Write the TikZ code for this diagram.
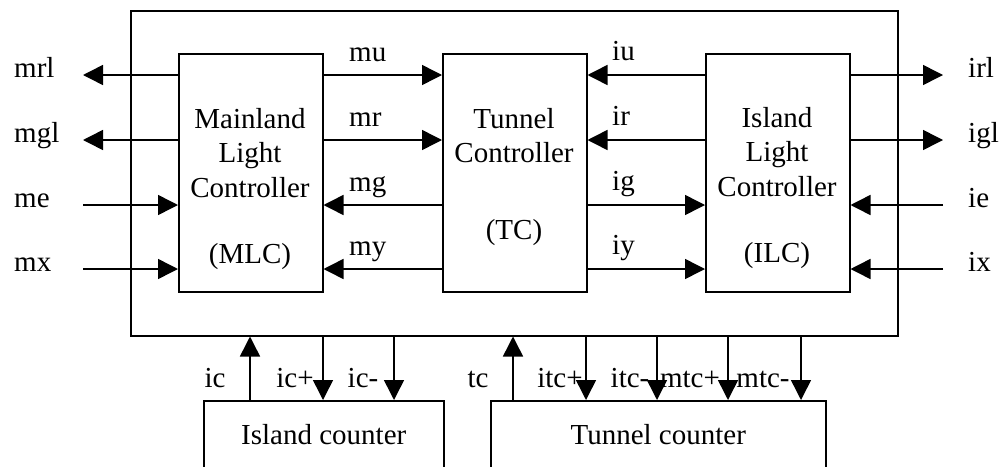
\documentclass[tikz,border=0pt]{standalone}
\usepackage{fontspec}
\setmainfont{Liberation Serif}
\usetikzlibrary{arrows.meta}
\begin{document}
\begin{tikzpicture}[x=1pt,y=-1pt,
  font=\fontsize{29}{34.5}\selectfont,
  lw/.style={line width=1.5pt},
  box/.style={draw, lw, minimum width=144pt, minimum height=238pt, inner sep=0, anchor=north west},
  cbox/.style={draw, lw, minimum height=68pt, inner sep=0, anchor=north west},
  btxt/.style={anchor=base, align=center, text width=150pt, inner sep=0},
  sig/.style={lw, -{Triangle[length=20pt,width=20pt]}},
  lbl/.style={inner sep=0}]
\useasboundingbox (0,0) rectangle (1003,466);
\clip (0,0) rectangle (1003,466);
% outer system box
\node[draw, lw, anchor=north west, minimum width=767pt, minimum height=325pt, inner sep=0] (sys) at (130,10) {};
% controllers
\node[box] (MLC) at (178,53) {};
\node[box] (TC) at (442,53) {};
\node[box] (ILC) at (705,53) {};
\node[btxt] (MLCt) at (250,128) {Mainland\\Light\\Controller\\[31.5pt](MLC)};
\node[btxt] (TCt) at (514,128) {Tunnel\\Controller\\[42.5pt](TC)};
\node[btxt] (ILCt) at (777,127) {Island\\Light\\Controller\\[31.5pt](ILC)};
% counters
\node[cbox, minimum width=240pt] (IC) at (203,400) {Island counter};
\node[cbox, minimum width=335pt] (TCN) at (490,400) {Tunnel counter};
% rows and free ends
\coordinate (r1) at (0,75);
\coordinate (r2) at (0,140);
\coordinate (r3) at (0,205);
\coordinate (r4) at (0,269);
\coordinate (xl) at (83,0);
\coordinate (xr) at (943,0);
% left external signals
\draw[sig] (MLC.west |- r1) -- (xl |- r1);
\draw[sig] (MLC.west |- r2) -- (xl |- r2);
\draw[sig] (xl |- r3) -- (MLC.west |- r3);
\draw[sig] (xl |- r4) -- (MLC.west |- r4);
\node[lbl, anchor=mid west] (lmrl) at (14,75) {mrl};
\node[lbl, anchor=mid west] (lmgl) at (14,140) {mgl};
\node[lbl, anchor=mid west] (lme) at (14,205) {me};
\node[lbl, anchor=mid west] (lmx) at (14,269) {mx};
% MLC <-> TC
\draw[sig] (MLC.east |- r1) -- (TC.west |- r1);
\draw[sig] (MLC.east |- r2) -- (TC.west |- r2);
\draw[sig] (TC.west |- r3) -- (MLC.east |- r3);
\draw[sig] (TC.west |- r4) -- (MLC.east |- r4);
\node[lbl, anchor=base west] (lmu) at (349,61) {mu};
\node[lbl, anchor=base west] (lmr) at (349,126) {mr};
\node[lbl, anchor=base west] (lmg) at (349,191) {mg};
\node[lbl, anchor=base west] (lmy) at (349,255) {my};
% ILC <-> TC
\draw[sig] (ILC.west |- r1) -- (TC.east |- r1);
\draw[sig] (ILC.west |- r2) -- (TC.east |- r2);
\draw[sig] (TC.east |- r3) -- (ILC.west |- r3);
\draw[sig] (TC.east |- r4) -- (ILC.west |- r4);
\node[lbl, anchor=base west] (liu) at (612,60) {iu};
\node[lbl, anchor=base west] (lir) at (612,125) {ir};
\node[lbl, anchor=base west] (lig) at (612,190) {ig};
\node[lbl, anchor=base west] (liy) at (612,254) {iy};
% right external signals
\draw[sig] (ILC.east |- r1) -- (xr |- r1);
\draw[sig] (ILC.east |- r2) -- (xr |- r2);
\draw[sig] (xr |- r3) -- (ILC.east |- r3);
\draw[sig] (xr |- r4) -- (ILC.east |- r4);
\node[lbl, anchor=mid west] (lirl) at (968,75) {irl};
\node[lbl, anchor=mid west] (ligl) at (968,140) {igl};
\node[lbl, anchor=mid west] (lie) at (968,205) {ie};
\node[lbl, anchor=mid west] (lix) at (968,269) {ix};
% counter signals
\coordinate (cic) at (250,0);
\coordinate (cicp) at (323,0);
\coordinate (cicm) at (394,0);
\coordinate (ctc) at (513,0);
\coordinate (citcp) at (586,0);
\coordinate (citcm) at (657,0);
\coordinate (cmtcp) at (728,0);
\coordinate (cmtcm) at (801,0);
\draw[sig] (IC.north -| cic) -- (sys.south -| cic);
\draw[sig] (sys.south -| cicp) -- (IC.north -| cicp);
\draw[sig] (sys.south -| cicm) -- (IC.north -| cicm);
\draw[sig] (TCN.north -| ctc) -- (sys.south -| ctc);
\draw[sig] (sys.south -| citcp) -- (TCN.north -| citcp);
\draw[sig] (sys.south -| citcm) -- (TCN.north -| citcm);
\draw[sig] (sys.south -| cmtcp) -- (TCN.north -| cmtcp);
\draw[sig] (sys.south -| cmtcm) -- (TCN.north -| cmtcm);
\node[lbl, anchor=base] (lic) at (215,387) {ic};
\node[lbl, anchor=base] (licp) at (295,387) {ic+};
\node[lbl, anchor=base] (licm) at (363,387) {ic-};
\node[lbl, anchor=base] (ltc) at (478,387) {tc};
\node[lbl, anchor=base] (litcp) at (560,387) {itc+};
\node[lbl, anchor=base] (litcm) at (630,387) {itc-};
\node[lbl, anchor=base] (lmtcp) at (690,387) {mtc+};
\node[lbl, anchor=base] (lmtcm) at (763,387) {mtc-};
\end{tikzpicture}
\end{document}
